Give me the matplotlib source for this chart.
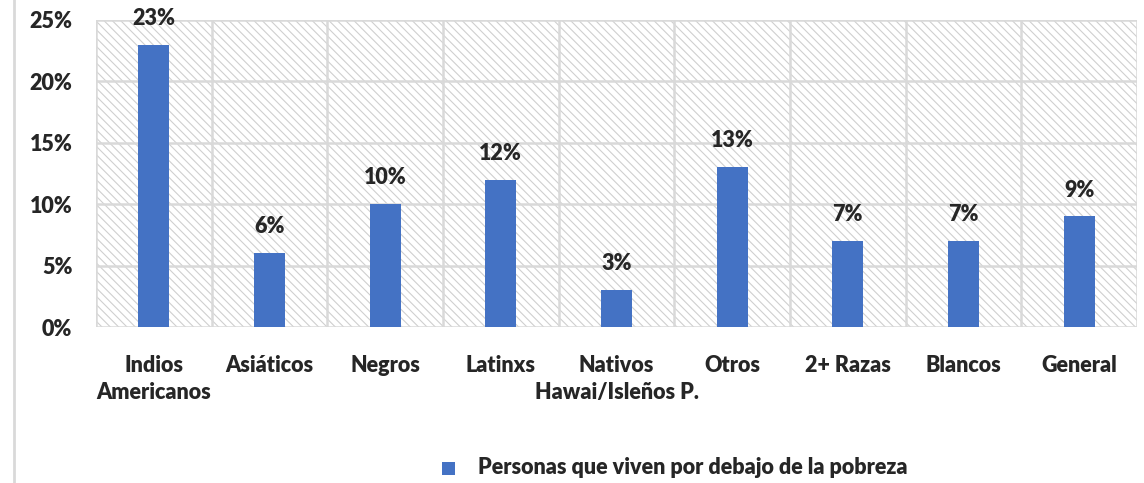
import matplotlib
matplotlib.use("Agg")
import matplotlib.pyplot as plt
from matplotlib.patches import Rectangle
from matplotlib.lines import Line2D

categories = ["Indios\nAmericanos", "Asiáticos", "Negros", "Latinxs", "Nativos\nHawai/Isleños P.",
              "Otros", "2+ Razas", "Blancos", "General"]
values = [23, 6, 10, 12, 3, 13, 7, 7, 9]
yticks = [0, 5, 10, 15, 20, 25]
legend_label = "Personas que viven por debajo de la pobreza"

plt.rcParams['font.family'] = ['Lato', 'DejaVu Sans']
plt.rcParams['hatch.color'] = '#c8c8c8'
plt.rcParams['hatch.linewidth'] = 0.8

W, H = 1144, 483
fig = plt.figure(figsize=(W/100, H/100), dpi=100)
ax = fig.add_axes([96/W, 1-327/H, (1137-96)/W, (327-20)/H])

FS = 15.5
FW = 'heavy'
TC = '#262626'

n = len(categories)
x = list(range(n))
bar_color = '#4472c4'
bars = ax.bar(x, values, width=0.27, color=bar_color, zorder=3)

ax.set_xlim(-0.5, n-0.5)
ax.set_ylim(0, 25)

# hatched background
bg = Rectangle((0, 0), 1, 1, transform=ax.transAxes, facecolor='white',
               edgecolor='#cfcfcf', hatch='\\\\\\\\', lw=0, zorder=0)
ax.add_patch(bg)

grid_c = '#d9d9d9'
for yv in yticks:
    ax.axhline(yv, color=grid_c, lw=1.8, zorder=1)
for i in range(n+1):
    ax.axvline(i-0.5, color=grid_c, lw=1.8, zorder=1)

for s in ax.spines.values():
    s.set_visible(False)

ax.set_yticks(yticks)
ax.set_yticklabels([f"{v}%" for v in yticks], fontsize=FS, fontweight=FW, color=TC)
ax.set_xticks(x)
ax.set_xticklabels(categories, fontsize=FS, fontweight=FW, color=TC, linespacing=1.38)
ax.tick_params(axis='both', length=0)
ax.tick_params(axis='y', pad=17)
ax.tick_params(axis='x', pad=20)

for xi, v in zip(x, values):
    ax.annotate(f"{v}%", (xi, v), xytext=(0, 19), textcoords='offset points',
                ha='center', va='center', fontsize=FS, fontweight=FW, color=TC,
                zorder=4, annotation_clip=False)

# left border line
fig.add_artist(Line2D([14/W, 14/W], [0, 1], color='#d9d9d9', lw=2))

# legend
fig.patches.append(Rectangle((442/W, 1-475/H), 13/W, 13/H, transform=fig.transFigure,
                             facecolor=bar_color, edgecolor='none', figure=fig))
fig.text(478/W, 1-468/H, legend_label, fontsize=FS, fontweight=FW, color=TC,
         ha='left', va='center')

fig.savefig("out.png", dpi=100)
